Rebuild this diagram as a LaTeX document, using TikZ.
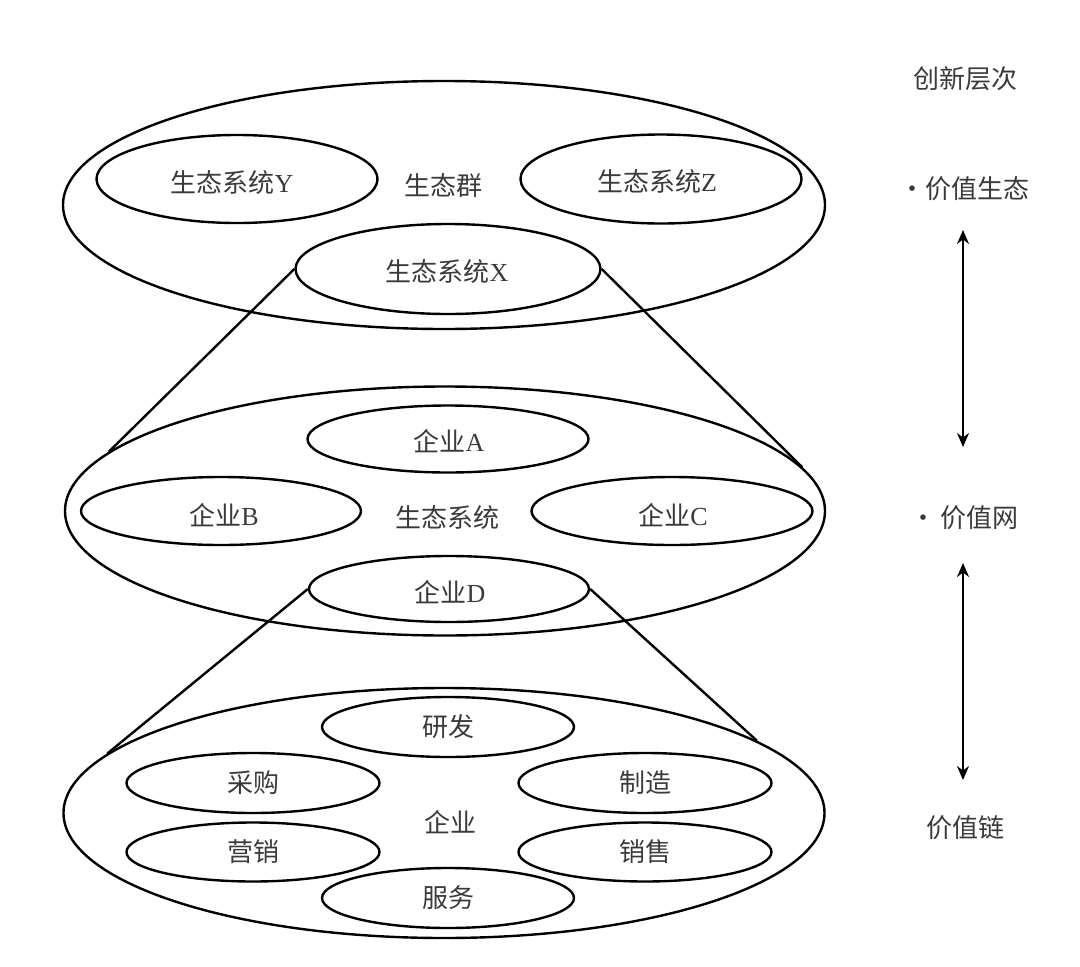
\documentclass[tikz,border=0pt]{standalone}
\usepackage{fontspec}
\setmainfont{Liberation Serif}
\newfontfamily\cjk{Noto Sans CJK SC}
\usetikzlibrary{shapes.geometric,arrows.meta}
\definecolor{txt}{HTML}{3A3A3A}
\begin{document}
\begin{tikzpicture}[x=1pt,y=-1pt,
  ell/.style={draw=black,line width=2.4pt,ellipse,inner sep=0pt},
  lbl/.style={text=txt,font=\fontsize{26}{30}\selectfont,inner sep=0pt},
  zoomline/.style={draw=black,line width=2.4pt},
  lvlarrow/.style={draw=black,line width=2.2pt,{Stealth[length=14pt,width=12pt]}-{Stealth[length=14pt,width=12pt]}}
]
\useasboundingbox (0,0) rectangle (1080,967);

% ---------- top level ----------
\node[ell,minimum width=762pt,minimum height=248pt] (top) at (444,205) {};
\node[ell,minimum width=281pt,minimum height=88pt] (ecoY) at (237,179) {};
\node[ell,minimum width=281pt,minimum height=89pt] (ecoZ) at (661,179) {};
\node[ell,minimum width=305pt,minimum height=90pt] (ecoX) at (448,269) {};
\node[lbl] (tY) at (232,183) {{\cjk 生态系统}Y};
\node[lbl] (tZ) at (657,182) {{\cjk 生态系统}Z};
\node[lbl] (tX) at (447,272) {{\cjk 生态系统}X};
\node[lbl] (tgroup) at (443,186) {\cjk 生态群};

% ---------- middle level ----------
\node[ell,minimum width=760pt,minimum height=249pt] (mid) at (445,511) {};
\node[ell,minimum width=281pt,minimum height=67pt] (fA) at (448,439) {};
\node[ell,minimum width=280pt,minimum height=68pt] (fB) at (221,511) {};
\node[ell,minimum width=281pt,minimum height=68pt] (fC) at (672,511) {};
\node[ell,minimum width=280pt,minimum height=66pt] (fD) at (449,589) {};
\node[lbl] (tA) at (449,441) {{\cjk 企业}A};
\node[lbl] (tB) at (224,515) {{\cjk 企业}B};
\node[lbl] (tC) at (673,515) {{\cjk 企业}C};
\node[lbl] (tD) at (450,592) {{\cjk 企业}D};
\node[lbl] (tsys) at (447,518) {\cjk 生态系统};

% ---------- bottom level ----------
\node[ell,minimum width=761pt,minimum height=250pt] (bot) at (444,813) {};
\node[ell,minimum width=252pt,minimum height=60pt] (rd) at (448,727) {};
\node[ell,minimum width=253pt,minimum height=60pt] (buy) at (253,783) {};
\node[ell,minimum width=253pt,minimum height=60pt] (make) at (645,783) {};
\node[ell,minimum width=253pt,minimum height=59pt] (mkt) at (253,852) {};
\node[ell,minimum width=253pt,minimum height=59pt] (sell) at (645,852) {};
\node[ell,minimum width=252pt,minimum height=60pt] (svc) at (448,898) {};
\node[lbl] at (rd) {\cjk 研发};
\node[lbl] at (buy) {\cjk 采购};
\node[lbl] at (make) {\cjk 制造};
\node[lbl] at (mkt) {\cjk 营销};
\node[lbl] at (sell) {\cjk 销售};
\node[lbl] at (svc) {\cjk 服务};
\node[lbl] (tfirm) at (450,822) {\cjk 企业};

% ---------- zoom lines ----------
\draw[zoomline] (ecoX.west) -- (mid.170.3);
\draw[zoomline] (ecoX.east) -- (mid.7.2);
\draw[zoomline] (fD.west) -- (bot.170.2);
\draw[zoomline] (fD.east) -- (bot.13);

% ---------- right column ----------
\node[lbl] (hdr) at (965,79) {\cjk 创新层次};
\node[lbl,anchor=west] (lv1) at (899,189) {\cjk ·价值生态};
\node[lbl,anchor=west] (lv2) at (910,518) {\cjk ·\hspace{4pt}价值网};
\node[lbl] (lv3) at (965,828) {\cjk 价值链};
\coordinate (a1t) at (963,230);
\coordinate (a1b) at (963,447);
\coordinate (a2t) at (963,563);
\coordinate (a2b) at (963,780);
\draw[lvlarrow] (a1t) -- (a1b);
\draw[lvlarrow] (a2t) -- (a2b);
\end{tikzpicture}
\end{document}
